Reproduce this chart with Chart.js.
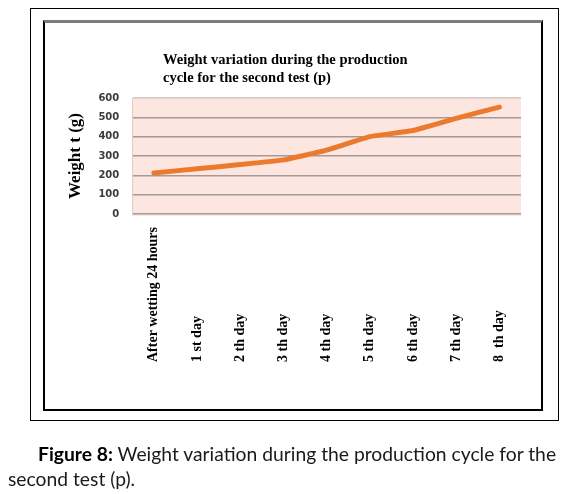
<!DOCTYPE html>
<html>
<head>
<meta charset="utf-8">
<script src="https://cdn.jsdelivr.net/npm/chart.js@4/dist/chart.umd.min.js"></script>
<style>
  body { margin: 0; background: #fff; width: 581px; height: 494px; overflow: hidden; position: relative; }
  #outer { position: absolute; left: 30px; top: 8px; width: 527px; height: 411px; border: 1.5px solid #000; }
  #inner { position: absolute; left: 43px; top: 20px; width: 496px; height: 386px;
           border: 2px solid #000; border-top: 3px solid #807a78; }
  #wrap { position: absolute; left: 0; top: 0; width: 581px; height: 494px; }
  #caption { position: absolute; left: 8px; top: 441px; width: 575px; font-family: Lato, "Open Sans", sans-serif;
             font-size: 19.3px; line-height: 25px; color: #1a1a1a; white-space: nowrap; }
  #caption b { font-weight: bold; color: #000; }
</style>
</head>
<body>
<div id="outer"></div>
<div id="inner"></div>
<div id="wrap"><canvas id="elGrafico" width="581" height="494"></canvas></div>
<div id="caption"><span style="padding-left:30px"></span><b>Figure 8:</b> Weight variation during the production cycle for the<br>second test (p).</div>

<script>
const etiquetas = ['After wetting 24 hours', '1 st day', '2 th day', '3 th day', '4 th day', '5 th day', '6 th day', '7 th day', '8  th day']
const pesos = [212, 234, 256, 280, 330, 400, 432, 495, 553]
const titulo = ['Weight variation during the production', 'cycle for the second test (p)']
const tituloEje = 'Weight t (g)'

// fondo rosado del area del grafico
const fondo = {
    id: 'fondo',
    beforeDraw(chart) {
        const { ctx, chartArea: a } = chart
        ctx.save()
        ctx.fillStyle = '#fde6df'
        ctx.fillRect(a.left, a.top, a.right - a.left, a.bottom - a.top + 2)
        ctx.restore()
    }
}

// titulo alineado a la izquierda y etiquetas verticales alineadas abajo
const textos = {
    id: 'textos',
    afterDraw(chart) {
        const ctx = chart.ctx
        const x = chart.scales.x
        ctx.save()
        ctx.fillStyle = '#000'
        ctx.font = 'bold 14.5px "Liberation Serif"'
        ctx.textBaseline = 'middle'
        ctx.textAlign = 'left'
        titulo.forEach((t, i) => ctx.fillText(t, 163, 60 + i * 18))

        ctx.font = 'bold 14px "Liberation Serif"'
        etiquetas.forEach((t, i) => {
            ctx.save()
            ctx.translate(x.getPixelForValue(i), 362)
            ctx.rotate(-Math.PI / 2)
            ctx.textAlign = 'left'
            ctx.fillText(t, 0, 0)
            ctx.restore()
        })
        ctx.restore()
    }
}

new Chart('elGrafico', {
    type: 'line',
    data: {
        labels: etiquetas,
        datasets: [{
            data: pesos,
            borderColor: '#ec7a2e',
            borderWidth: 5,
            borderCapStyle: 'round',
            pointRadius: 0,
            tension: 0.1,
            fill: false
        }]
    },
    options: {
        responsive: false,
        animation: false,
        layout: { padding: { left: 65, right: 60, top: 98, bottom: 280 } },
        plugins: {
            legend: { display: false },
            tooltip: { enabled: false }
        },
        scales: {
            x: {
                type: 'category',
                offset: true,
                display: false
            },
            y: {
                min: 0,
                max: 600,
                ticks: {
                    stepSize: 100,
                    padding: 13,
                    color: '#3c3c3c',
                    font: { family: 'DejaVu Sans', size: 10, weight: 'bold' }
                },
                grid: {
                    drawTicks: false,
                    lineWidth: 1.6,
                    color: (c) => c.tick && c.tick.value === 600 ? '#cfc8c6' : '#a39a98'
                },
                border: { display: true, color: '#ddd0cc', width: 1 },
                title: {
                    display: true,
                    text: tituloEje,
                    color: '#000',
                    padding: { top: 0, bottom: 0 },
                    font: { family: 'Liberation Serif', size: 17, weight: 'bold' }
                }
            }
        }
    },
    plugins: [fondo, textos]
})
</script>
</body>
</html>
